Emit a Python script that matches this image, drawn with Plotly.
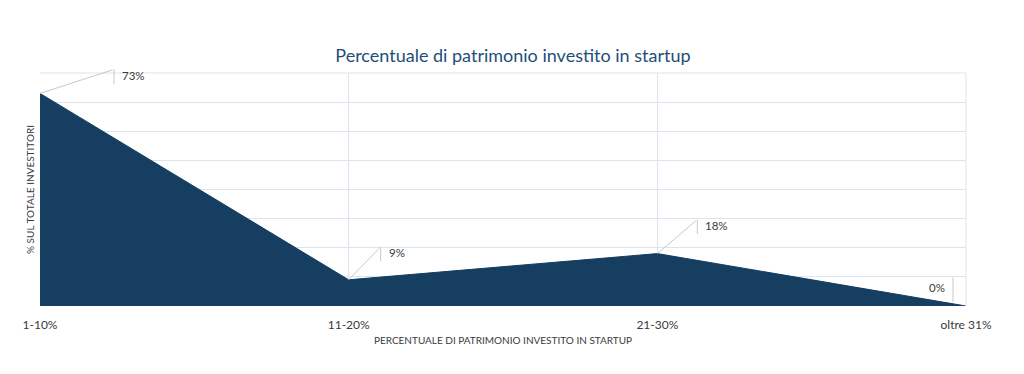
import plotly.graph_objects as go

categories = ["1-10%", "11-20%", "21-30%", "oltre 31%"]
values = [73, 9, 18, 0]
labels = ["73%", "9%", "18%", "0%"]

# leader-line offsets in pixels (style only)
leader = [(74, -24), (32, -33), (40, -34), (-13, -26)]

FILL = "#153e61"
TXT = "#3a3a3a"
GRID = "#dae5f1"
LEAD = "#c8c8c8"
FONT = "Lato"

xs = list(range(len(categories)))

fig = go.Figure()
fig.add_trace(go.Scatter(
    x=xs, y=values, mode="lines", fill="tozeroy",
    fillcolor=FILL, line=dict(color=FILL, width=1),
    hoverinfo="skip", showlegend=False,
))

ann = []
for i, (v, lab, (dx, dy)) in enumerate(zip(values, labels, leader)):
    if dx > 0:
        ann.append(dict(x=i, y=v, xref="x", yref="y", ax=dx, ay=dy, text="",
                        showarrow=True, arrowhead=0, arrowwidth=1,
                        arrowcolor=LEAD, standoff=0, startstandoff=0))
        ann.append(dict(x=i, y=v, xref="x", yref="y", xshift=dx, yshift=-dy,
                        ax=0, ay=16, text="", showarrow=True, arrowhead=0,
                        arrowwidth=1, arrowcolor=LEAD, standoff=0))
        ann.append(dict(x=i, y=v, xref="x", yref="y", xshift=dx + 6,
                        yshift=-dy - 6, text=lab, showarrow=False,
                        xanchor="left", yanchor="middle",
                        font=dict(family=FONT, size=11.5, color=TXT)))
    else:
        ann.append(dict(x=i, y=v, xref="x", yref="y", xshift=dx, yshift=4,
                        ax=0, ay=-26, text="", showarrow=True, arrowhead=0,
                        arrowwidth=1, arrowcolor=LEAD, standoff=0))
        ann.append(dict(x=i, y=v, xref="x", yref="y", xshift=dx - 6,
                        yshift=19, text=lab, showarrow=False,
                        xanchor="right", yanchor="middle",
                        font=dict(family=FONT, size=11.5, color=TXT)))

fig.update_layout(
    width=1016, height=366,
    margin=dict(l=32, r=58, t=65, b=68),
    paper_bgcolor="white", plot_bgcolor="white",
    title=dict(text="Percentuale di patrimonio investito in startup",
               x=0.497, xanchor="center", y=0.869, yanchor="middle",
               font=dict(family=FONT, size=18, color="#1f4e79")),
    font=dict(family=FONT, color=TXT),
    annotations=ann,
    xaxis=dict(range=[0, 3], tickmode="array", tickvals=xs, ticktext=categories,
               showgrid=True, gridcolor=GRID, gridwidth=1, zeroline=False,
               showline=False, ticks="", ticklabelstandoff=10,
               tickfont=dict(family=FONT, size=12, color=TXT),
               title=dict(text="PERCENTUALE DI PATRIMONIO INVESTITO IN STARTUP",
                          font=dict(family=FONT, size=10, color=TXT), standoff=5)),
    yaxis=dict(range=[0, 80], dtick=10, showgrid=True, gridcolor=GRID,
               zeroline=False, showticklabels=False, ticks="",
               title=dict(text="% SUL TOTALE INVESTITORI",
                          font=dict(family=FONT, size=10, color=TXT), standoff=2)),
)
fig.add_shape(type="line", xref="paper", yref="paper", x0=1, x1=1, y0=0, y1=1,
              line=dict(color=GRID, width=1))
fig.add_shape(type="line", xref="paper", yref="paper", x0=0, x1=1, y0=1, y1=1,
              line=dict(color=GRID, width=1))

fig.write_html("out.html")
